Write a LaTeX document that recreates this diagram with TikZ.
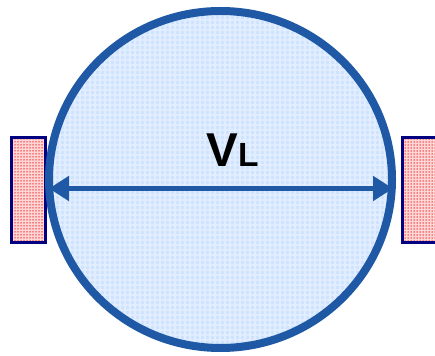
\documentclass[tikz,border=0pt]{standalone}
\usepackage{fontspec}
\setmainfont{Liberation Sans}
\usetikzlibrary{shapes.geometric,arrows.meta,patterns.meta}
\definecolor{rimblue}{RGB}{31,88,165}
\definecolor{discfill}{RGB}{206,227,253}
\definecolor{discgrid}{RGB}{226,238,255}
\definecolor{padnavy}{RGB}{0,0,128}
\definecolor{padfill}{RGB}{255,214,214}
\definecolor{paddot}{RGB}{240,40,40}
\tikzset{
  pad/.style={rectangle, draw=padnavy, line width=3pt, inner sep=0pt, outer sep=0pt,
    minimum width=34pt, minimum height=105pt,
    preaction={fill=padfill},
    preaction={pattern={Dots[radius=0.75pt, distance=3pt]}, pattern color=paddot}},
  disc/.style={ellipse, draw=rimblue, line width=8pt, inner sep=0pt, outer sep=0pt,
    minimum width=343pt, minimum height=337pt,
    preaction={fill=discfill},
    preaction={pattern={Lines[angle=0, distance=5pt, line width=1.2pt]}, pattern color=discgrid},
    preaction={pattern={Lines[angle=90, distance=5pt, line width=1.2pt]}, pattern color=discgrid}},
  span/.style={rimblue, line width=5pt,
    {Triangle[width=24pt, length=20pt]}-{Triangle[width=24pt, length=20pt]}}
}
\begin{document}
\begin{tikzpicture}[x=1pt, y=1pt]
  \useasboundingbox (0,0) rectangle (435,355);
  % electrode pads behind the disc
  \node[pad] (leftpad) at (28.5,165) {};
  \node[pad] (rightpad) at (419.5,165) {};
  % the disc
  \node[disc] (ball) at (220.5,175.5) {};
  % diameter arrow
  \coordinate (spanL) at (49,166.5);
  \coordinate (spanR) at (393,166.5);
  \draw[span] (spanL) -- (spanR);
  % label
  \node[anchor=base, inner sep=0pt] (vl) at (232.5,188)
    {\fontsize{47.5}{50}\selectfont\bfseries V\fontsize{33.5}{35}\selectfont L};
\end{tikzpicture}
\end{document}
